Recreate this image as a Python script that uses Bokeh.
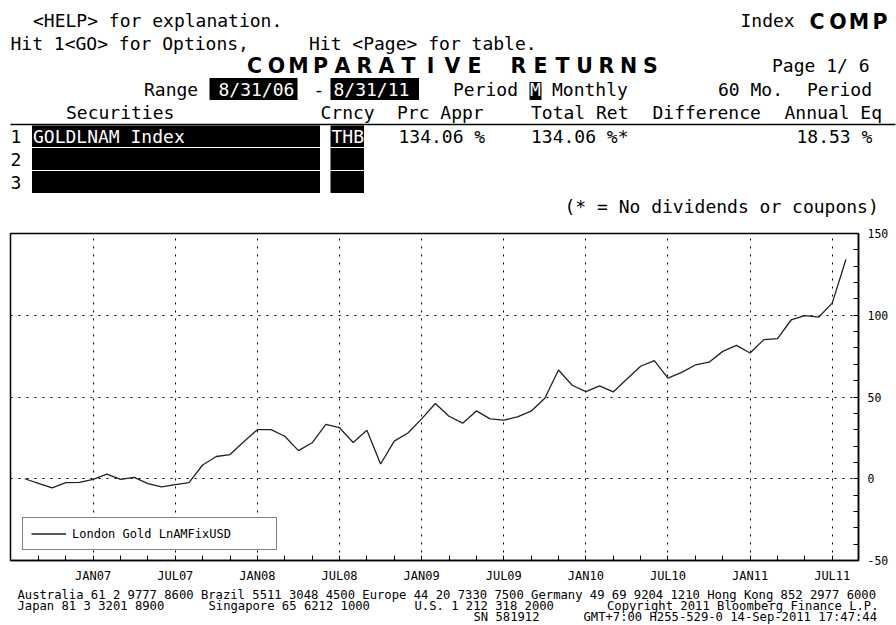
from bokeh.plotting import figure
from bokeh.layouts import column
from bokeh.models import Range1d, FixedTicker
from bokeh.core.properties import value
from bokeh.embed import file_html
from bokeh.resources import INLINE

# ---------------- data ----------------
# monthly points, index 0 = Aug 2006 ... index 60 = Aug 2011
month_index = list(range(61))
gold_return = [0.0, -2.8, -5.6, -2.4, -2.2, -0.4, 2.8, -0.4, 0.8, -3.0,
               -5.0, -3.6, -2.4, 8.4, 13.6, 14.8, 22.6, 30.0, 30.0, 26.0,
               17.2, 22.0, 33.2, 31.2, 22.2, 29.6, 9.0, 23.0, 28.0, 36.6,
               46.0, 38.2, 34.0, 41.5, 36.6, 35.8, 37.8, 41.3, 49.2, 66.5,
               57.2, 53.3, 56.8, 53.1, 61.0, 68.8, 72.3, 61.6, 65.1, 69.6,
               71.3, 77.9, 81.6, 76.9, 85.1, 85.7, 97.1, 99.8, 98.8, 107.4,
               134.06]
tick_month = [5, 11, 17, 23, 29, 35, 41, 47, 53, 59]
tick_label = ["JAN07", "JUL07", "JAN08", "JUL08", "JAN09",
              "JUL09", "JAN10", "JUL10", "JAN11", "JUL11"]
y_ticks = [-50, 0, 50, 100, 150]
y_labels = ["-50", "0", "50", "100", "150"]
series_name = "London Gold LnAMFixUSD"
security = "GOLDLNAM Index"
currency = "THB"
prc_appr = "134.06 %"
total_ret = "134.06 %*"
annual_eq = "18.53 %"
range_start = "8/31/06"
range_end = "8/31/11"

MONO = "DejaVu Sans Mono"
W = 896


def canvas(h, y_top, y_bot):
    f = figure(width=W, height=h, x_range=Range1d(0, W),
               y_range=Range1d(y_bot, y_top), output_backend="svg",
               toolbar_location=None, x_axis_location=None,
               y_axis_location=None, min_border=0, outline_line_color=None)
    f.grid.visible = False
    f.background_fill_color = "white"
    f.border_fill_color = "white"
    return f


def txt(f, x, y, s, size="18px", color="black", style="normal",
        font=MONO, align="left"):
    f.text(x=[x], y=[y], text=[s], text_font=value(font),
           text_font_size=value(size), text_color=color,
           text_font_style=style, text_baseline="middle", text_align=align)


def box(f, x0, x1, y0, y1):
    f.quad(left=[x0], right=[x1], top=[y0], bottom=[y1],
           fill_color="black", line_color=None)


# ---------------- header ----------------
h = canvas(225, 0, 225)
txt(h, 32.5, 20, "<HELP> for explanation.")
txt(h, 740, 20, "Index")
comp = "COMP"
h.text(x=[806 + 21 * i + 10.5 for i in range(len(comp))], y=[21] * len(comp),
       text=list(comp), text_font=value("DejaVu Sans"),
       text_font_size=value("20.5px"), text_font_style="bold",
       text_baseline="middle", text_align="center", text_color="black")
txt(h, 10, 42.5, "Hit 1<GO> for Options,")
txt(h, 308.5, 42.5, "Hit <Page> for table.")
title = "COMPARATIVE RETURNS"
h.text(x=[243 + 22 * i + 11 for i in range(len(title))], y=[65.5] * len(title),
       text=list(title), text_font=value("DejaVu Sans"),
       text_font_size=value("20.5px"), text_font_style="bold",
       text_baseline="middle", text_align="center", text_color="black")
txt(h, 771.5, 65, "Page  1/ 6")

txt(h, 143.5, 88.5, "Range")
box(h, 209, 297, 77.5, 99.5)
txt(h, 218, 88.5, range_start, color="white")
txt(h, 313, 88.5, "-")
box(h, 330, 418.5, 77.5, 99.5)
txt(h, 333, 88.5, range_end, color="white")
txt(h, 452.5, 88.5, "Period")
box(h, 529, 541, 81.5, 99.5)
txt(h, 535, 88.5, "M", color="white", align="center")
txt(h, 551.5, 88.5, "Monthly")
txt(h, 717.5, 88.5, "60 Mo.")
txt(h, 806.5, 88.5, "Period")

txt(h, 65.5, 112, "Securities")
txt(h, 320, 112, "Crncy")
txt(h, 396.5, 112, "Prc Appr")
txt(h, 530.5, 112, "Total Ret")
txt(h, 652, 112, "Difference")
txt(h, 784, 112, "Annual Eq")
h.line(x=[10, 895], y=[124, 124], line_color="black", line_width=1.5)

for k, (y0, y1) in enumerate([(125, 146.5), (147.5, 169.5), (170.5, 192.5)]):
    box(h, 31.5, 319.5, y0, y1)
    box(h, 330, 363.5, y0, y1)
    txt(h, 10, (y0 + y1) / 2, str(k + 1))
txt(h, 32.5, 135.5, security, color="white")
txt(h, 331, 135.5, currency, color="white")
txt(h, 398, 135.5, prc_appr)
txt(h, 530.5, 135.5, total_ret)
txt(h, 796, 135.5, annual_eq)
txt(h, 564, 206, "(* = No dividends or coupons)")

# ---------------- chart ----------------
minor_x = [m for m in range(1, 61, 2) if m not in tick_month]
minor_y = [v for v in range(-50, 151, 10) if v % 50]

p = figure(width=W, height=360, x_range=Range1d(-1.04, 60.92),
           y_range=Range1d(-50, 150), y_axis_location="right",
           output_backend="svg", toolbar_location=None,
           min_border_left=10, min_border_right=38,
           min_border_top=8, min_border_bottom=22)
p.background_fill_color = "white"
p.border_fill_color = "white"
p.outline_line_color = "black"
p.outline_line_width = 1.5

p.line(month_index, gold_return, line_color="#222222", line_width=1.3,
       legend_label=series_name)

for ax in (p.xaxis[0], p.yaxis[0]):
    ax.axis_line_color = "black"
    ax.axis_line_width = 1.5
    ax.major_tick_in = 5
    ax.major_tick_out = 0
    ax.minor_tick_in = 5
    ax.minor_tick_out = 0
    ax.major_tick_line_color = "black"
    ax.minor_tick_line_color = "black"
    ax.major_label_text_font = MONO
    ax.major_label_text_color = "black"

p.xaxis.ticker = FixedTicker(ticks=tick_month, minor_ticks=minor_x)
p.xaxis.major_label_overrides = dict(zip(tick_month, tick_label))
p.xaxis.major_label_text_font_size = "12px"
p.xaxis.major_label_standoff = 8

p.yaxis.ticker = FixedTicker(ticks=y_ticks, minor_ticks=minor_y)
p.yaxis.major_label_overrides = dict(zip(y_ticks, y_labels))
p.yaxis.major_label_text_font_size = "11.5px"
p.yaxis.major_label_standoff = 9

p.grid.grid_line_color = "black"
p.grid.grid_line_dash = "2 6"
p.grid.grid_line_width = 1

lg = p.legend[0]
lg.location = (12, 10)
lg.border_line_color = "black"
lg.border_line_width = 1
lg.background_fill_color = "white"
lg.background_fill_alpha = 1
lg.padding = 8
lg.margin = 0
lg.spacing = 0
lg.glyph_width = 35
lg.glyph_height = 15
lg.label_height = 15
lg.label_width = 196
lg.label_standoff = 6
lg.label_text_font = MONO
lg.label_text_font_size = "12px"
lg.label_text_color = "black"

# ---------------- footer ----------------
ft = canvas(40, 585, 625)
FS = "12.2px"
txt(ft, 17, 594, "Australia 61 2 9777 8600 Brazil 5511 3048 4500 Europe 44 20 7330 7500 "
                 "Germany 49 69 9204 1210 Hong Kong 852 2977 6000", size=FS)
txt(ft, 17, 605.5, "Japan 81 3 3201 8900", size=FS)
txt(ft, 208, 605.5, "Singapore 65 6212 1000", size=FS)
txt(ft, 414, 605.5, "U.S. 1 212 318 2000", size=FS)
txt(ft, 606.5, 605.5, "Copyright 2011 Bloomberg Finance L.P.", size=FS)
txt(ft, 473, 616.5, "SN 581912", size=FS)
txt(ft, 583, 616.5, "GMT+7:00 H255-529-0 14-Sep-2011 17:47:44", size=FS)

layout = column(column(h), column(p), column(ft), spacing=0)
open("out.html", "w").write(file_html(layout, INLINE))
